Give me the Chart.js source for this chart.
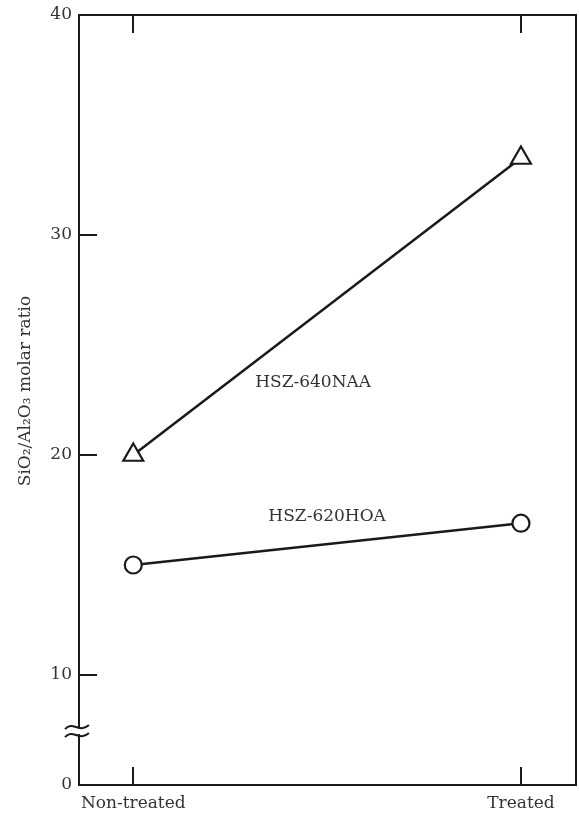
<!DOCTYPE html>
<html>
<head>
<meta charset="utf-8">
<script src="https://cdn.jsdelivr.net/npm/chart.js@4.4.1/dist/chart.umd.min.js"></script>
<style>
  html, body { margin: 0; padding: 0; background: #fff; }
  #wrap { width: 579px; height: 815px; position: relative; }
</style>
</head>
<body>
<div id="wrap"><canvas id="c" width="579" height="815"></canvas></div>
<script>
// Treatment states along the x axis
const categories = ['Non-treated', 'Treated'];
// SiO2/Al2O3 molar ratio per zeolite
const hsz640naa = [20, 33.5];
const hsz620hoa = [15, 16.9];
// Labelled y ticks; the lowest one stands for 0 below the axis break
const yTickValues = [5, 10, 20, 30, 40];
const yTickLabels = ['0', '10', '20', '30', '40'];
// Series names written next to their lines (data coordinates)
const seriesNotes = [
  { text: 'HSZ-640NAA', x: 0.464, y: 23.3 },
  { text: 'HSZ-620HOA', x: 0.5, y: 17.2 }
];

const FONT = '"DejaVu Serif", "Liberation Serif", serif';
const INK = '#1a1a1a';
const TEXT = '#333';

const toPoints = arr => arr.map((v, i) => ({ x: i, y: v }));

// Frame, inward ticks, axis break, title and series names
const decorations = {
  id: 'decorations',
  afterDatasetsDraw(chart) {
    const { ctx, chartArea: a, scales: { x, y } } = chart;
    ctx.save();
    ctx.strokeStyle = INK;
    ctx.lineWidth = 2;
    ctx.strokeRect(a.left, a.top, a.right - a.left, a.bottom - a.top);

    ctx.beginPath();
    [10, 20, 30].forEach(v => {
      const py = Math.round(y.getPixelForValue(v));
      ctx.moveTo(a.left, py); ctx.lineTo(a.left + 18, py);
    });
    categories.forEach((_, i) => {
      const px = Math.round(x.getPixelForValue(i));
      ctx.moveTo(px, a.bottom); ctx.lineTo(px, a.bottom - 18);
      ctx.moveTo(px, a.top); ctx.lineTo(px, a.top + 18);
    });
    ctx.stroke();

    // axis break between 0 and 10
    const by = y.getPixelForValue(7.45);
    ctx.fillStyle = '#fff';
    ctx.fillRect(a.left - 3, by - 3, 6, 6);
    ctx.lineWidth = 2;
    [-4, 4].forEach(dy => {
      ctx.beginPath();
      const x0 = a.left - 14, x1 = a.left + 10;
      ctx.moveTo(x0, by + dy + 2);
      ctx.bezierCurveTo(x0 + 8, by + dy - 7, x1 - 10, by + dy + 7, x1, by + dy - 2);
      ctx.stroke();
    });

    ctx.fillStyle = TEXT;
    ctx.font = '17px ' + FONT;
    ctx.textAlign = 'center';
    ctx.textBaseline = 'middle';
    seriesNotes.forEach(n => {
      ctx.fillText(n.text, x.getPixelForValue(n.x), y.getPixelForValue(n.y));
    });

    ctx.translate(26, 391);
    ctx.rotate(-Math.PI / 2);
    ctx.fillText('SiO\u2082/Al\u2082O\u2083 molar ratio', 0, 0);
    ctx.restore();
  }
};

new Chart(document.getElementById('c'), {
  type: 'line',
  data: {
    datasets: [
      {
        label: 'HSZ-640NAA',
        data: toPoints(hsz640naa),
        borderColor: INK,
        borderWidth: 2.5,
        pointStyle: 'triangle',
        pointRadius: 11.5,
        pointBorderWidth: 2.2,
        pointBorderColor: INK,
        pointBackgroundColor: '#fff'
      },
      {
        label: 'HSZ-620HOA',
        data: toPoints(hsz620hoa),
        borderColor: INK,
        borderWidth: 2.5,
        pointStyle: 'circle',
        pointRadius: 8.5,
        pointBorderWidth: 2.2,
        pointBorderColor: INK,
        pointBackgroundColor: '#fff'
      }
    ]
  },
  options: {
    responsive: false,
    animation: false,
    layout: { autoPadding: false, padding: { top: 15, right: 3, left: 0, bottom: 0 } },
    plugins: { legend: { display: false }, tooltip: { enabled: false } },
    scales: {
      x: {
        type: 'linear',
        min: -0.14,
        max: 1.142,
        grid: { display: false, drawTicks: false },
        border: { display: false },
        afterBuildTicks: s => { s.ticks = categories.map((_, i) => ({ value: i })); },
        afterFit: s => { s.height = 30; s.paddingLeft = 0; s.paddingRight = 0; },
        ticks: {
          padding: 8,
          color: TEXT,
          font: { family: FONT, size: 17 },
          maxRotation: 0,
          callback: v => categories[v]
        }
      },
      y: {
        type: 'linear',
        min: 5,
        max: 40,
        grid: { display: false, drawTicks: false },
        border: { display: false },
        afterBuildTicks: s => { s.ticks = yTickValues.map(v => ({ value: v })); },
        afterFit: s => { s.width = 79; s.paddingTop = 0; s.paddingBottom = 0; },
        ticks: {
          padding: 7,
          color: TEXT,
          font: { family: FONT, size: 17 },
          callback: v => yTickLabels[yTickValues.indexOf(v)]
        }
      }
    }
  },
  plugins: [decorations]
});
</script>
</body>
</html>
